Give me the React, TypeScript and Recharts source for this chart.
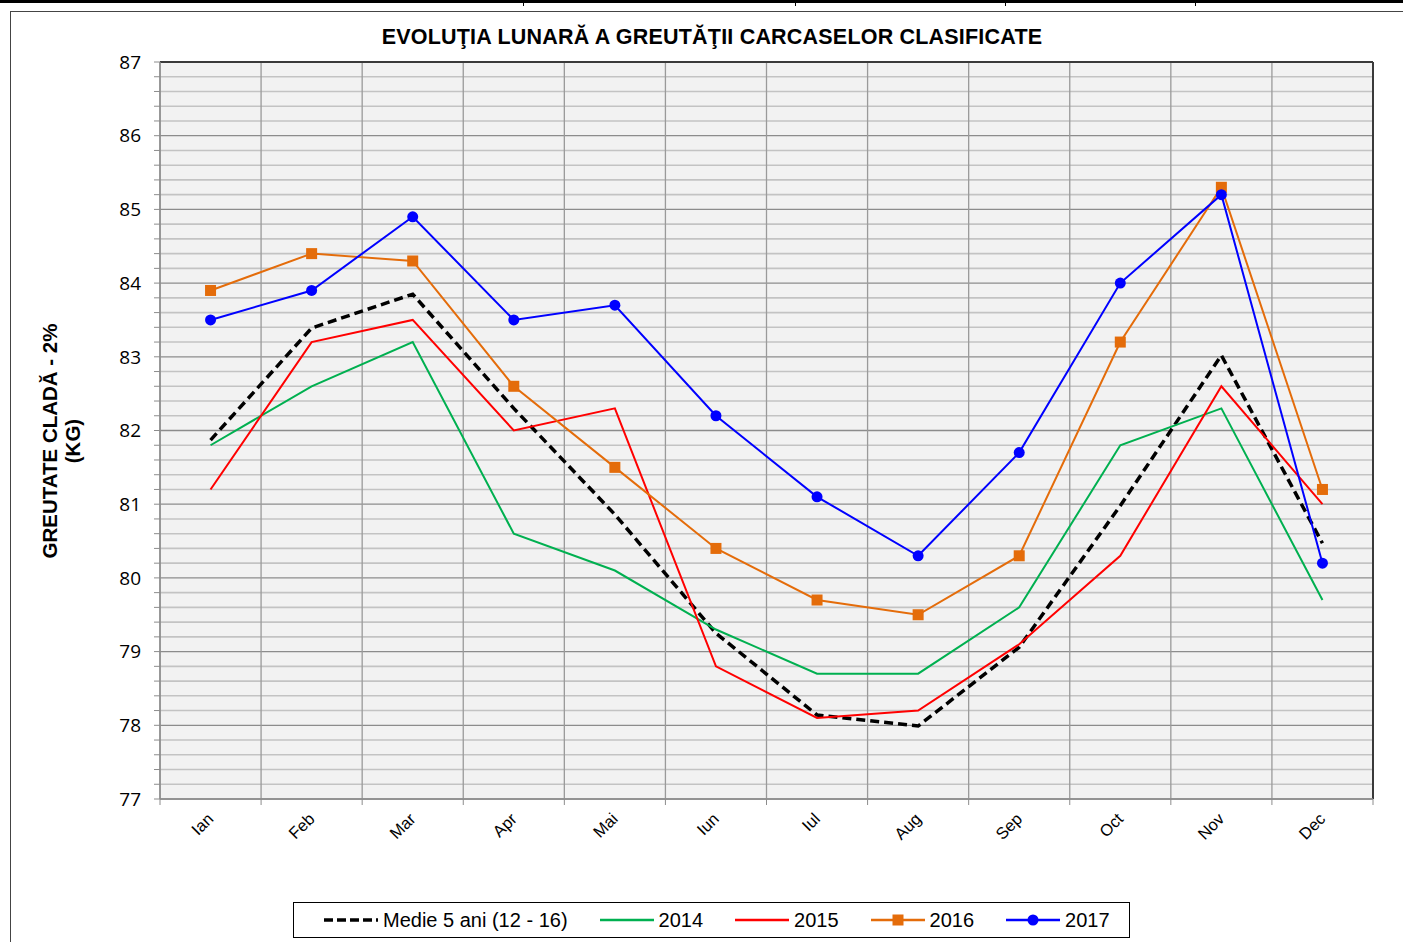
import { LineChart, Line, XAxis, YAxis, CartesianGrid, ReferenceLine } from "recharts"

const months = ["Ian", "Feb", "Mar", "Apr", "Mai", "Iun", "Iul", "Aug", "Sep", "Oct", "Nov", "Dec"]
const medie = [81.87, 83.39, 83.85, 82.3, 80.86, 79.25, 78.14, 77.99, 79.06, 80.98, 83.02, 80.47]
const y2014 = [81.8, 82.6, 83.2, 80.6, 80.1, 79.3, 78.7, 78.7, 79.6, 81.8, 82.3, 79.7]
const y2015 = [81.2, 83.2, 83.5, 82.0, 82.3, 78.8, 78.1, 78.2, 79.1, 80.3, 82.6, 81.0]
const y2016 = [83.9, 84.4, 84.3, 82.6, 81.5, 80.4, 79.7, 79.5, 80.3, 83.2, 85.3, 81.2]
const y2017 = [83.5, 83.9, 84.9, 83.5, 83.7, 82.2, 81.1, 80.3, 81.7, 84.0, 85.2, 80.2]

const majorTicks = [77, 78, 79, 80, 81, 82, 83, 84, 85, 86, 87]
// minor grid every 0.2 between the labelled values
const yTicks: number[] = []
for (let k = 0; k <= 50; k++) yTicks.push(Math.round((77 + k * 0.2) * 10) / 10)

const monthTicks = months.map((_, i) => i + 1)
const boundaryTicks = [0.5, ...months.map((_, i) => i + 1.5)]

const data = months.map((m, i) => ({
  idx: i + 1,
  month: m,
  medie: medie[i],
  y2014: y2014[i],
  y2015: y2015[i],
  y2016: y2016[i],
  y2017: y2017[i],
}))

const series = [
  { key: "medie", name: "Medie 5 ani (12 - 16)", color: "#000000", dashed: true, marker: "none" },
  { key: "y2014", name: "2014", color: "#00b050", dashed: false, marker: "none" },
  { key: "y2015", name: "2015", color: "#ff0000", dashed: false, marker: "none" },
  { key: "y2016", name: "2016", color: "#e46c0a", dashed: false, marker: "square" },
  { key: "y2017", name: "2017", color: "#0000ff", dashed: false, marker: "circle" },
]

const font = "'Liberation Sans', Arial, sans-serif"

const MonthTick = (props: any) => {
  const { x, y, payload } = props
  const ax = x + 4
  const ay = y + 13
  return (
    <text x={ax} y={ay} textAnchor="end" fontSize={16.5} fontFamily={font} fill="#000" transform={`rotate(-45, ${ax}, ${ay})`}>
      {months[payload.value - 1]}
    </text>
  )
}

const HLine = (props: any) => {
  const major = props.index % 5 === 0
  return (
    <line
      key={props.key}
      x1={props.x1}
      y1={props.y1}
      x2={props.x2}
      y2={props.y2}
      stroke={major ? "#8c8c8c" : "#c3c3c3"}
      strokeWidth={major ? 1.3 : 1.6}
    />
  )
}

const SquareDot = (props: any) => {
  const { cx, cy, key } = props
  if (cx == null || cy == null) return <g key={key} />
  return <rect key={key} x={cx - 5.5} y={cy - 5.5} width={11} height={11} fill="#e46c0a" />
}

const LegendSample = ({ s }: { s: (typeof series)[number] }) => (
  <svg width={54} height={14} style={{ display: "block" }}>
    <line
      x1={0}
      y1={7}
      x2={54}
      y2={7}
      stroke={s.color}
      strokeWidth={s.dashed ? 3.5 : 2.5}
      strokeDasharray={s.dashed ? "9 4" : undefined}
    />
    {s.marker === "square" && <rect x={21.5} y={1.5} width={11} height={11} fill={s.color} />}
    {s.marker === "circle" && <circle cx={27} cy={7} r={5.5} fill={s.color} />}
  </svg>
)

export default function App() {
  return (
    <div style={{ position: "fixed", left: 0, top: 0, width: 1403, height: 942, background: "#fff", overflow: "hidden" }}>
      <div style={{ position: "absolute", left: 0, top: 0, width: 1403, height: 3, background: "#000" }} />
      {[523, 795, 1005, 1195].map((x) => (
        <div key={x} style={{ position: "absolute", left: x, top: 0, width: 1, height: 6, background: "#000" }} />
      ))}
      <div
        style={{
          position: "absolute",
          left: 10,
          top: 11,
          width: 1500,
          height: 1000,
          borderLeft: "1.5px solid #444",
          borderTop: "1.5px solid #444",
        }}
      />
      <div
        style={{
          position: "absolute",
          left: 0,
          width: 1424,
          top: 25,
          textAlign: "center",
          fontFamily: font,
          fontWeight: "bold",
          fontSize: 21.5,
          letterSpacing: 0.2,
          color: "#000",
        }}
      >
        EVOLUŢIA LUNARĂ A GREUTĂŢII CARCASELOR CLASIFICATE
      </div>
      <div
        style={{
          position: "absolute",
          left: 63 - 150,
          top: 441 - 25,
          width: 300,
          height: 50,
          transform: "rotate(-90deg)",
          textAlign: "center",
          fontFamily: font,
          fontWeight: "bold",
          fontSize: 20.5,
          lineHeight: "23px",
          color: "#000",
        }}
      >
        GREUTATE CLADĂ - 2%
        <br />
        (KG)
      </div>
      <div style={{ position: "absolute", left: 0, top: 0 }}>
        <LineChart width={1403} height={942} data={data} margin={{ top: 62, right: 30, left: 100, bottom: 95 }}>
          <CartesianGrid
            xAxisId="g"
            fill="#f2f2f2"
            stroke="#9a9a9a"
            strokeWidth={1.3}
            horizontal={HLine}
            vertical={{ stroke: "#9a9a9a", strokeWidth: 1.3 }}
          />
          <XAxis
            xAxisId="g"
            type="number"
            dataKey="idx"
            domain={[0.5, 12.5]}
            ticks={boundaryTicks}
            interval={0}
            height={8}
            tickSize={6}
            tickFormatter={() => ""}
            stroke="#8c8c8c"
            axisLine={{ stroke: "#8c8c8c", strokeWidth: 1.5 }}
            tickLine={{ stroke: "#8c8c8c" }}
          />
          <XAxis
            xAxisId="m"
            type="number"
            dataKey="idx"
            domain={[0.5, 12.5]}
            ticks={monthTicks}
            interval={0}
            height={40}
            tickSize={0}
            tickMargin={0}
            axisLine={false}
            tickLine={false}
            tick={MonthTick}
          />
          <YAxis
            type="number"
            domain={[77, 87]}
            ticks={yTicks}
            interval={0}
            width={60}
            tickSize={6}
            tickMargin={13}
            tickFormatter={(v: number) => (majorTicks.includes(v) ? String(v) : "")}
            tick={{ fill: "#000", fontSize: 19, fontFamily: "'Open Sans', 'Noto Sans', sans-serif" }}
            axisLine={{ stroke: "#8c8c8c", strokeWidth: 1.5 }}
            tickLine={{ stroke: "#8c8c8c" }}
          />
          <ReferenceLine y={87} xAxisId="m" stroke="#3a3a3a" strokeWidth={2} />
          <ReferenceLine x={12.5} xAxisId="m" stroke="#3a3a3a" strokeWidth={2} />
          {series.map((s) => (
            <Line
              key={s.key}
              xAxisId="m"
              type="linear"
              dataKey={s.key}
              name={s.name}
              stroke={s.color}
              strokeWidth={s.dashed ? 3.5 : 2}
              strokeDasharray={s.dashed ? "9 5" : undefined}
              dot={
                s.marker === "circle"
                  ? { r: 5.5, fill: s.color, stroke: s.color, strokeWidth: 0 }
                  : s.marker === "square"
                    ? SquareDot
                    : false
              }
              activeDot={false}
              isAnimationActive={false}
            />
          ))}
        </LineChart>
      </div>
      <div
        style={{
          position: "absolute",
          left: 293,
          top: 902,
          width: 837,
          height: 36,
          boxSizing: "border-box",
          border: "1px solid #000",
          background: "#fff",
          display: "flex",
          alignItems: "center",
          paddingLeft: 30,
          fontFamily: font,
          fontSize: 20,
          color: "#000",
        }}
      >
        {series.map((s) => (
          <div key={s.key} style={{ display: "flex", alignItems: "center", marginRight: 32 }}>
            <LegendSample s={s} />
            <span style={{ marginLeft: 5, whiteSpace: "nowrap" }}>{s.name}</span>
          </div>
        ))}
      </div>
    </div>
  )
}
